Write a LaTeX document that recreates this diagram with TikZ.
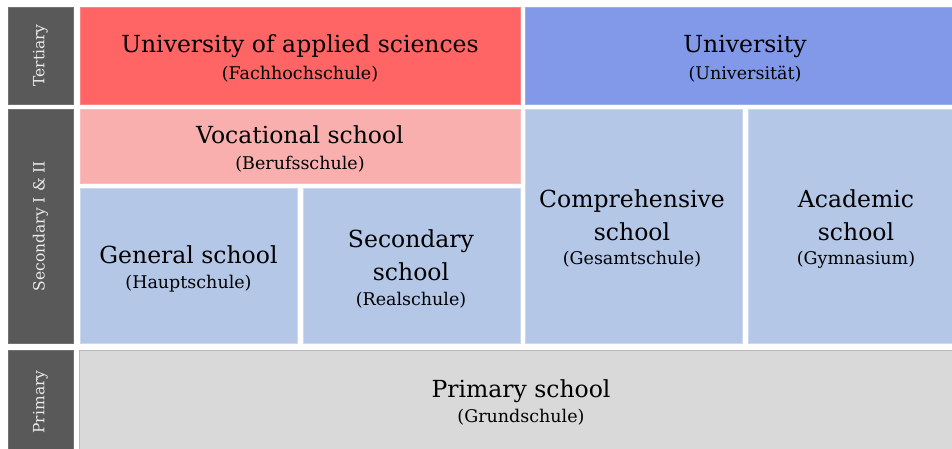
\documentclass[tikz,border=0pt]{standalone}
\usepackage{fontspec}
\setmainfont{DejaVu Serif}
\definecolor{cRed}{HTML}{FF6565}
\definecolor{cUni}{HTML}{8199E8}
\definecolor{cPink}{HTML}{F8AFAE}
\definecolor{cBlue}{HTML}{B4C7E7}
\definecolor{cGrey}{HTML}{D9D9D9}
\definecolor{cDark}{HTML}{595959}
\definecolor{cSide}{HTML}{EBEBEB}
\tikzset{
  box/.style={rectangle, inner sep=0pt, outer sep=0pt, anchor=north west, line width=0.6pt},
  side/.style={box, fill=cDark, draw=cDark!85!white, line width=0.8pt},
  sidelabel/.style={rotate=90, text=cSide, inner sep=0pt, font=\fontsize{15.5}{18}\selectfont},
  ttl/.style={anchor=base, inner sep=0pt, text=black, font=\fontsize{23.5}{28}\selectfont},
  sbt/.style={anchor=base, inner sep=0pt, text=black, font=\fontsize{17.5}{20}\selectfont},
}
\begin{document}
\begin{tikzpicture}[x=1pt,y=-1pt]
\useasboundingbox[fill=white] (0,0) rectangle (952,448);
% side bars
\node[side, minimum width=65, minimum height=97] (sT) at (8,7) {};
\node[side, minimum width=65, minimum height=234] (sS) at (8,109) {};
\node[side, minimum width=65, minimum height=100] (sP) at (8,350) {};
\node[sidelabel] (lT) at (sT.center) {Tertiary};
\node[sidelabel] (lS) at (sS.center) {Secondary I \& II};
\node[sidelabel] (lP) at ([yshift=-2]sP.center) {Primary};
% tertiary
\node[box, fill=cRed, draw=cRed!80!white, minimum width=440, minimum height=97] (fh) at (80,7) {};
\node[ttl] (fh1) at (300,52) {University of applied sciences};
\node[sbt] (fh2) at (300,79) {(Fachhochschule)};
\node[box, fill=cUni, draw=cUni!80!white, minimum width=440, minimum height=97] (uni) at (525,7) {};
\node[ttl] (uni1) at (745,52) {University};
\node[sbt] (uni2) at (745,79) {(Universität)};
% secondary
\node[box, fill=cPink, draw=cPink!80!white, minimum width=440, minimum height=74] (voc) at (80,109) {};
\node[ttl] (voc1) at (300,143) {Vocational school};
\node[sbt] (voc2) at (300,169) {(Berufsschule)};
\node[box, fill=cBlue, draw=cBlue!70!white, minimum width=217, minimum height=155] (gen) at (80,188) {};
\node[ttl] (gen1) at (188.5,263) {General school};
\node[sbt] (gen2) at (188.5,288) {(Hauptschule)};
\node[box, fill=cBlue, draw=cBlue!70!white, minimum width=217, minimum height=155] (sec) at (303,188) {};
\node[ttl] (sec1) at (411,247) {Secondary};
\node[ttl] (sec2) at (411,280) {school};
\node[sbt] (sec3) at (411,305) {(Realschule)};
\node[box, fill=cBlue, draw=cBlue!70!white, minimum width=217, minimum height=234] (comp) at (525,109) {};
\node[ttl] (comp1) at (632,207) {Comprehensive};
\node[ttl] (comp2) at (632,240) {school};
\node[sbt] (comp3) at (632,264) {(Gesamtschule)};
\node[box, fill=cBlue, draw=cBlue!70!white, minimum width=220, minimum height=234] (acad) at (748,109) {};
\node[ttl] (acad1) at (856,207) {Academic};
\node[ttl] (acad2) at (856,240) {school};
\node[sbt] (acad3) at (856,264) {(Gymnasium)};
% primary
\node[box, fill=cGrey, draw=cGrey!85!black, minimum width=890, minimum height=105] (prim) at (79,350) {};
\node[ttl] (prim1) at (521,397) {Primary school};
\node[sbt] (prim2) at (521,422) {(Grundschule)};
\end{tikzpicture}
\end{document}
